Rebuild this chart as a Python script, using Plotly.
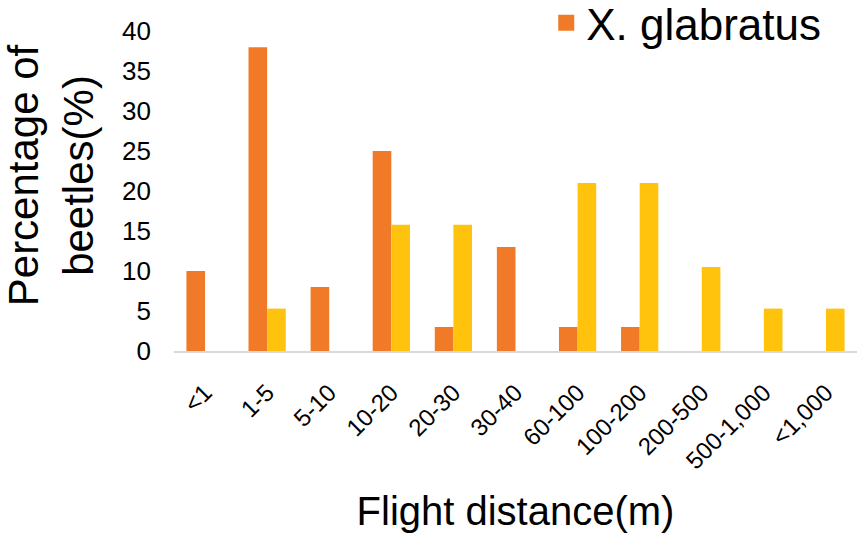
import plotly.graph_objects as go

categories = ["<1", "1-5", "5-10", "10-20", "20-30", "30-40", "60-100",
              "100-200", "200-500", "500-1,000", "<1,000"]
x_glabratus = [10, 38, 8, 25, 3, 13, 3, 3, 0, 0, 0]
second_series = [0, 5.3, 0, 15.8, 15.8, 0, 21, 21, 10.5, 5.3, 5.3]
y_ticks = [0, 5, 10, 15, 20, 25, 30, 35, 40]

FONT = "Liberation Sans, Arial, sans-serif"
ORANGE = "#F07A28"
YELLOW = "#FFC30D"

fig = go.Figure()
fig.add_trace(go.Bar(x=categories, y=x_glabratus, name="X. glabratus",
                     legendgroup="xg", showlegend=False,
                     marker=dict(color=ORANGE, line=dict(width=0))))
fig.add_trace(go.Bar(x=categories, y=second_series, name="",
                     showlegend=False,
                     marker=dict(color=YELLOW, line=dict(width=0))))
# legend entry with a larger square swatch
fig.add_trace(go.Scatter(x=[None], y=[None], mode="markers",
                         name="X. glabratus", legendgroup="xg",
                         marker=dict(symbol="square", size=22, color=ORANGE,
                                     line=dict(width=0))))

fig.update_layout(
    width=857, height=533,
    margin=dict(l=174, r=0, t=0, b=182, autoexpand=False),
    paper_bgcolor="white", plot_bgcolor="white",
    barmode="group", bargap=0.4, bargroupgap=0,
    font=dict(family=FONT, color="black"),
    showlegend=True,
    legend=dict(x=0.545, xanchor="left", y=1.035, yanchor="top",
                font=dict(size=44, family=FONT), bgcolor="rgba(0,0,0,0)",
                itemwidth=30),
    xaxis=dict(
        showline=True, linecolor="#d9d9d9", linewidth=2,
        showgrid=False, zeroline=False, ticks="",
        tickangle=-45, tickfont=dict(size=24, family=FONT),
        ticklabelstandoff=16,
        title=dict(text="Flight distance(m)", font=dict(size=40, family=FONT),
                   standoff=24),
    ),
    yaxis=dict(
        range=[0, 43.9], tickvals=y_ticks,
        showline=False, showgrid=False, zeroline=False, ticks="",
        tickfont=dict(size=26, family=FONT), ticklabelstandoff=22,
        title=dict(text="Percentage of<br>beetles(%)",
                   font=dict(size=42, family=FONT), standoff=15),
    ),
)

fig.write_html("out.html")
